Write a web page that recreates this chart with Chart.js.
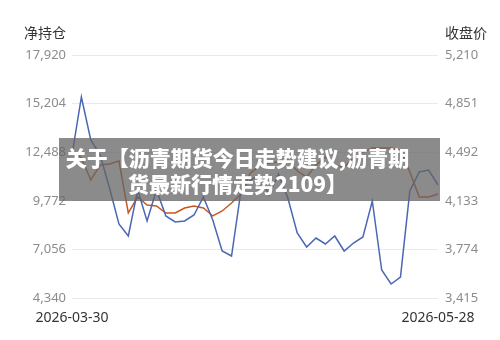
<!DOCTYPE html>
<html>
<head>
<meta charset="utf-8">
<script src="https://cdn.jsdelivr.net/npm/chart.js@4/dist/chart.umd.min.js"></script>
<style>
  html, body { margin: 0; padding: 0; background: #fff; }
  #wrap { position: relative; width: 500px; height: 340px; }
  #banner {
    position: absolute; left: 59px; top: 138px; width: 381px; height: 63px;
    background: rgba(100,100,100,0.75); color: #fff;
    font-family: "Noto Sans CJK SC", "Noto Sans", sans-serif; font-weight: 900;
    font-size: 21px; line-height: 26px; text-align: center;
    display: flex; flex-direction: column; justify-content: center;
    box-sizing: border-box; padding-right: 24px; white-space: nowrap;
  }
</style>
</head>
<body>
<div id="wrap">
  <canvas id="c" width="500" height="340"></canvas>
  <div id="banner"><div>关于【沥青期货今日走势建议,沥青期</div><div>货最新行情走势2109】</div></div>
</div>
<script>
const dates = [
  "2026-03-30","2026-03-31","2026-04-01","2026-04-02","2026-04-03","2026-04-07","2026-04-08","2026-04-09","2026-04-10",
  "2026-04-13","2026-04-14","2026-04-15","2026-04-16","2026-04-17","2026-04-20","2026-04-21","2026-04-22","2026-04-23","2026-04-24",
  "2026-04-27","2026-04-28","2026-04-29","2026-04-30","2026-05-06","2026-05-07","2026-05-08","2026-05-11","2026-05-12","2026-05-13",
  "2026-05-14","2026-05-15","2026-05-18","2026-05-19","2026-05-20","2026-05-21","2026-05-22","2026-05-25","2026-05-26","2026-05-27","2026-05-28"
];
const netPosition = [
  12332,15573,13170,12332,10488,8476,7805,10376,8643,10376,
  8923,8587,8643,8979,9984,8699,6967,6687,10320,10934,
  11214,10096,11270,9928,7972,7190,7693,7358,7805,6967,
  7414,7749,9761,5905,5123,5514,10320,11382,11494,10655
];
const closePrice = [
  4508,4449,4287,4397,4405,4427,4043,4161,4102,4095,
  4043,4043,4080,4095,4080,4021,4058,4117,4183,4338,
  4390,4412,4420,4434,4353,4309,4397,4457,4390,4383,
  4449,4493,4523,4523,4523,4508,4346,4161,4161,4183
];
const leftTicks = [4340, 7056, 9772, 12488, 15204, 17920];
const rightTicks = [3415, 3774, 4133, 4492, 4851, 5210];
const leftTitle = "净持仓";
const rightTitle = "收盘价";

const FONT = '"Noto Sans", "Noto Sans CJK SC", sans-serif';
const fmt = v => Number(v).toLocaleString('en-US');

const titlesPlugin = {
  id: 'axisTitles',
  afterDraw(chart) {
    const ctx = chart.ctx;
    const a = chart.chartArea;
    ctx.save();
    ctx.fillStyle = '#333';
    ctx.font = '14px "Noto Sans CJK SC", sans-serif';
    ctx.textBaseline = 'middle';
    ctx.textAlign = 'right';
    ctx.fillText(leftTitle, a.left - 6, 33);
    ctx.textAlign = 'left';
    ctx.fillText(rightTitle, a.right + 7, 33);
    ctx.restore();
  }
};

new Chart(document.getElementById('c'), {
  type: 'line',
  data: {
    labels: dates,
    datasets: [
      { label: leftTitle, data: netPosition, yAxisID: 'yL', borderColor: '#4a67b5', borderWidth: 1.5, pointRadius: 0, tension: 0, fill: false },
      { label: rightTitle, data: closePrice, yAxisID: 'yR', borderColor: '#c8571f', borderWidth: 1.5, pointRadius: 0, tension: 0, fill: false }
    ]
  },
  options: {
    responsive: false,
    animation: false,
    layout: { padding: { top: 55, left: 0, right: 0, bottom: 0 } },
    plugins: { legend: { display: false }, tooltip: { enabled: false } },
    scales: {
      x: {
        offset: false,
        grid: { display: false, drawTicks: false },
        border: { display: false },
        ticks: {
          autoSkip: false, maxRotation: 0, minRotation: 0, padding: 12,
          color: '#333', font: { family: FONT, size: 14 },
          callback: function(v, i) { return (i === 0 || i === dates.length - 1) ? dates[i] : ''; }
        },
        afterFit: s => { s.height = 42; }
      },
      yL: {
        position: 'left',
        min: leftTicks[0], max: leftTicks[leftTicks.length - 1],
        afterBuildTicks: s => { s.ticks = leftTicks.map(v => ({ value: v })); },
        grid: { color: '#e6ebf0', drawTicks: false, lineWidth: 1 },
        border: { display: false },
        ticks: { padding: 6, color: '#8c8c8c', font: { family: FONT, size: 13 }, callback: v => fmt(v) },
        afterFit: s => { s.width = 72; }
      },
      yR: {
        position: 'right',
        min: rightTicks[0], max: rightTicks[rightTicks.length - 1],
        afterBuildTicks: s => { s.ticks = rightTicks.map(v => ({ value: v })); },
        grid: { display: false, drawTicks: false },
        border: { display: false },
        ticks: { padding: 7, color: '#8c8c8c', font: { family: FONT, size: 13 }, callback: v => fmt(v) },
        afterFit: s => { s.width = 62; }
      }
    }
  },
  plugins: [titlesPlugin]
});
</script>
</body>
</html>
